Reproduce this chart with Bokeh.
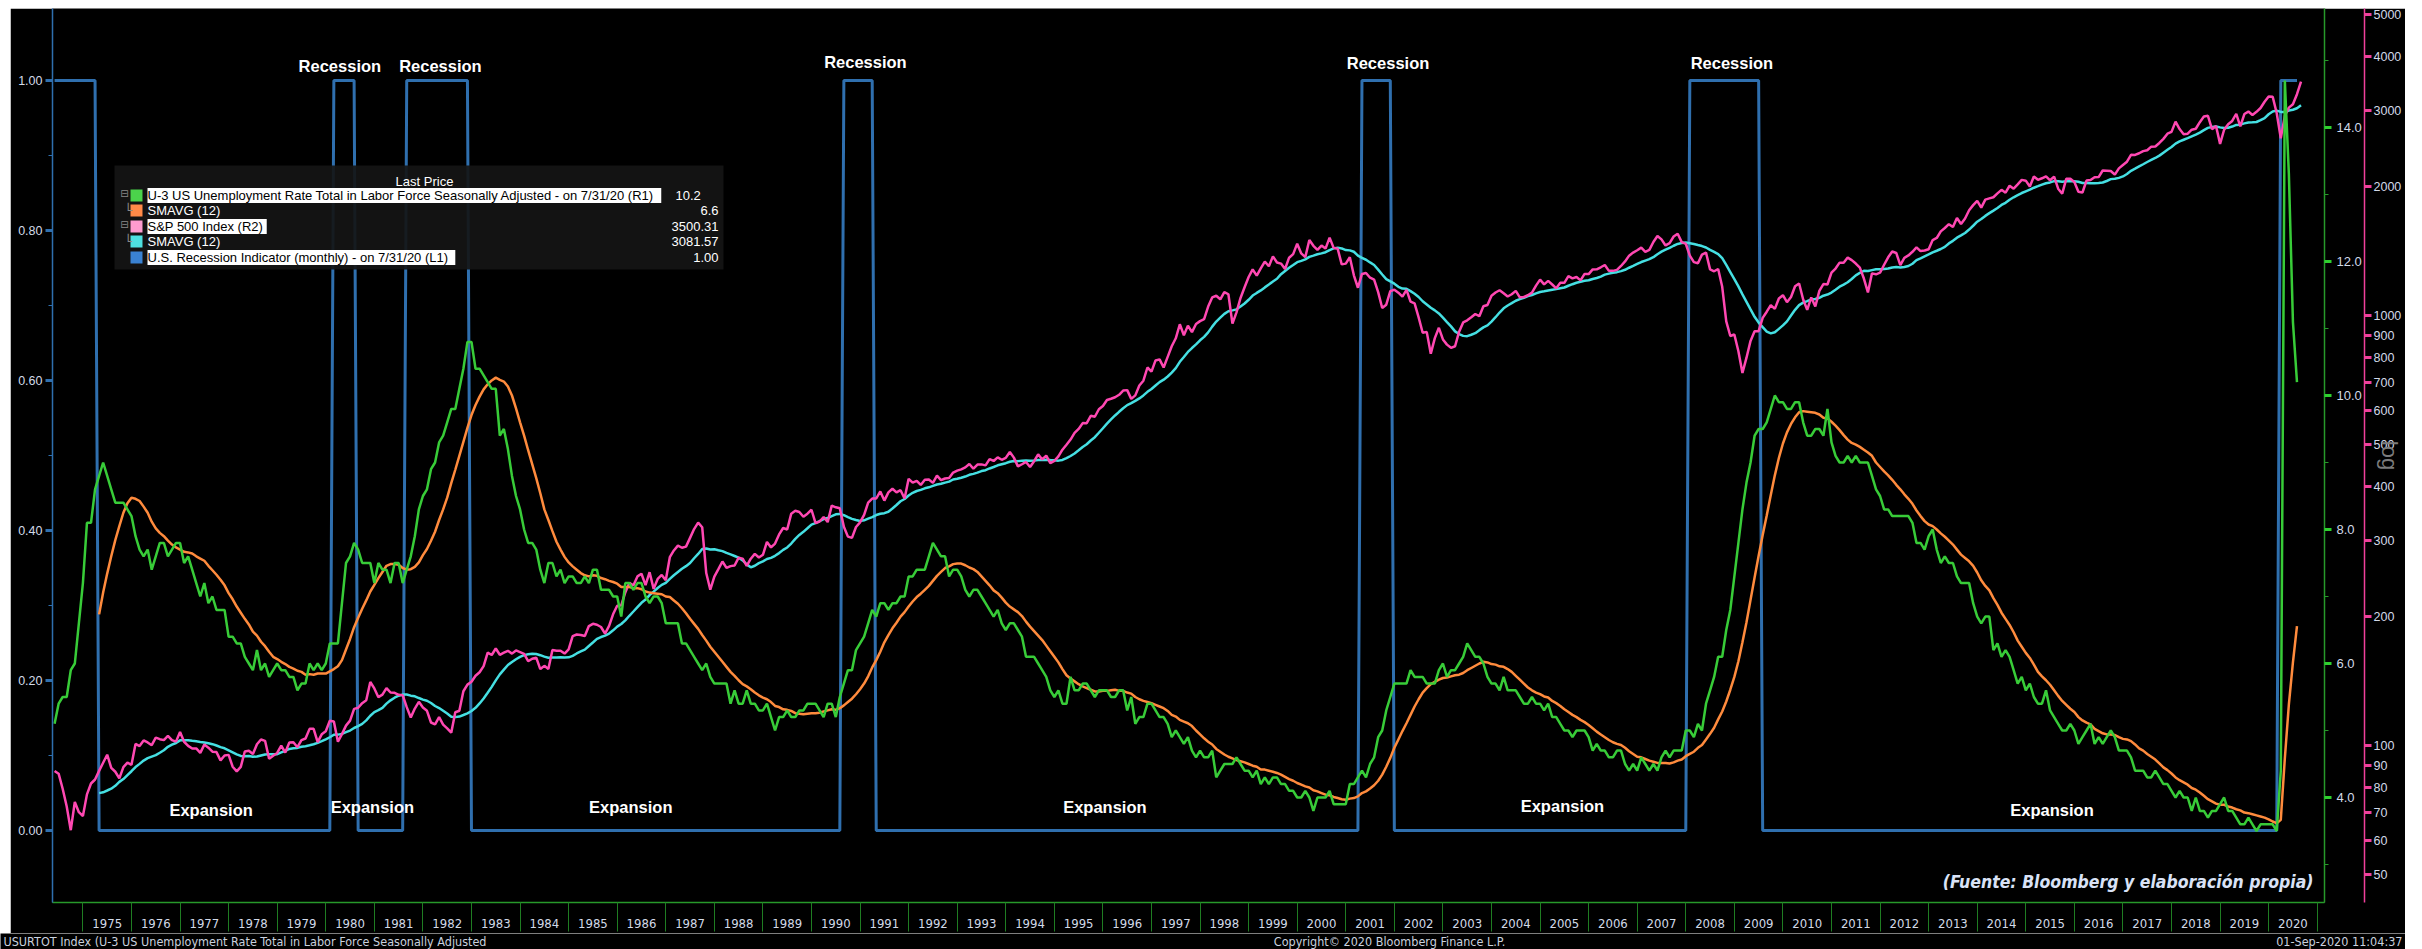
import numpy as np
from bokeh.plotting import figure
from bokeh.models import (Range1d, LinearAxis, LogAxis, FixedTicker, PrintfTickFormatter,
                          Label, BoxAnnotation, LogScale, ColumnDataSource, Spacer)
from bokeh.layouts import column, row
from bokeh.embed import file_html
from bokeh.resources import INLINE
from bokeh.core.properties import value

# ---------------- data ----------------
start_year, start_month = 1974, 5   # first monthly observation (month-end)

# U-3 US unemployment rate, monthly, May-1974 .. Jul-2020 (R1)
unemployment = [
    5.1, 5.4, 5.5, 5.5, 5.9, 6.0, 6.6, 7.2,                              # 1974
    8.1, 8.1, 8.6, 8.8, 9.0, 8.8, 8.6, 8.4, 8.4, 8.4, 8.3, 8.2,          # 1975
    7.9, 7.7, 7.6, 7.7, 7.4, 7.6, 7.8, 7.8, 7.6, 7.7, 7.8, 7.8,          # 1976
    7.5, 7.6, 7.4, 7.2, 7.0, 7.2, 6.9, 7.0, 6.8, 6.8, 6.8, 6.4,          # 1977
    6.4, 6.3, 6.3, 6.1, 6.0, 5.9, 6.2, 5.9, 6.0, 5.8, 5.9, 6.0,          # 1978
    5.9, 5.9, 5.8, 5.8, 5.6, 5.7, 5.7, 6.0, 5.9, 6.0, 5.9, 6.0,          # 1979
    6.3, 6.3, 6.3, 6.9, 7.5, 7.6, 7.8, 7.7, 7.5, 7.5, 7.5, 7.2,          # 1980
    7.5, 7.4, 7.4, 7.2, 7.5, 7.5, 7.2, 7.4, 7.6, 7.9, 8.3, 8.5,          # 1981
    8.6, 8.9, 9.0, 9.3, 9.4, 9.6, 9.8, 9.8, 10.1, 10.4, 10.8, 10.8,      # 1982
    10.4, 10.4, 10.3, 10.2, 10.1, 10.1, 9.4, 9.5, 9.2, 8.8, 8.5, 8.3,    # 1983
    8.0, 7.8, 7.8, 7.7, 7.4, 7.2, 7.5, 7.5, 7.3, 7.4, 7.2, 7.3,          # 1984
    7.3, 7.2, 7.2, 7.3, 7.2, 7.4, 7.4, 7.1, 7.1, 7.1, 7.0, 7.0,          # 1985
    6.7, 7.2, 7.2, 7.1, 7.2, 7.2, 7.0, 6.9, 7.0, 7.0, 6.9, 6.6,          # 1986
    6.6, 6.6, 6.6, 6.3, 6.3, 6.2, 6.1, 6.0, 5.9, 6.0, 5.8, 5.7,          # 1987
    5.7, 5.7, 5.7, 5.4, 5.6, 5.4, 5.4, 5.6, 5.4, 5.4, 5.3, 5.3,          # 1988
    5.4, 5.2, 5.0, 5.2, 5.2, 5.3, 5.2, 5.2, 5.3, 5.3, 5.4, 5.4,          # 1989
    5.4, 5.3, 5.2, 5.4, 5.4, 5.2, 5.5, 5.7, 5.9, 5.9, 6.2, 6.3,          # 1990
    6.4, 6.6, 6.8, 6.7, 6.9, 6.9, 6.8, 6.9, 6.9, 7.0, 7.0, 7.3,          # 1991
    7.3, 7.4, 7.4, 7.4, 7.6, 7.8, 7.7, 7.6, 7.6, 7.3, 7.4, 7.4,          # 1992
    7.3, 7.1, 7.0, 7.1, 7.1, 7.0, 6.9, 6.8, 6.7, 6.8, 6.6, 6.5,          # 1993
    6.6, 6.6, 6.5, 6.4, 6.1, 6.1, 6.1, 6.0, 5.9, 5.8, 5.6, 5.5,          # 1994
    5.6, 5.4, 5.4, 5.8, 5.6, 5.6, 5.7, 5.7, 5.6, 5.5, 5.6, 5.6,          # 1995
    5.6, 5.5, 5.5, 5.6, 5.6, 5.3, 5.5, 5.1, 5.2, 5.2, 5.4, 5.4,          # 1996
    5.3, 5.2, 5.2, 5.1, 4.9, 5.0, 4.9, 4.8, 4.9, 4.7, 4.6, 4.7,          # 1997
    4.6, 4.6, 4.7, 4.3, 4.4, 4.5, 4.5, 4.5, 4.6, 4.5, 4.4, 4.4,          # 1998
    4.3, 4.4, 4.2, 4.3, 4.2, 4.3, 4.3, 4.2, 4.2, 4.1, 4.1, 4.0,          # 1999
    4.0, 4.1, 4.0, 3.8, 4.0, 4.0, 4.0, 4.1, 3.9, 3.9, 3.9, 3.9,          # 2000
    4.2, 4.2, 4.3, 4.4, 4.3, 4.5, 4.6, 4.9, 5.0, 5.3, 5.5, 5.7,          # 2001
    5.7, 5.7, 5.7, 5.9, 5.8, 5.8, 5.8, 5.7, 5.7, 5.7, 5.9, 6.0,          # 2002
    5.8, 5.9, 5.9, 6.0, 6.1, 6.3, 6.2, 6.1, 6.1, 6.0, 5.8, 5.7,          # 2003
    5.7, 5.6, 5.8, 5.6, 5.6, 5.6, 5.5, 5.4, 5.4, 5.5, 5.4, 5.4,          # 2004
    5.3, 5.4, 5.2, 5.2, 5.1, 5.0, 5.0, 4.9, 5.0, 5.0, 5.0, 4.9,          # 2005
    4.7, 4.8, 4.7, 4.7, 4.6, 4.6, 4.7, 4.7, 4.5, 4.4, 4.5, 4.4,          # 2006
    4.6, 4.5, 4.4, 4.5, 4.4, 4.6, 4.7, 4.6, 4.7, 4.7, 4.7, 5.0,          # 2007
    5.0, 4.9, 5.1, 5.0, 5.4, 5.6, 5.8, 6.1, 6.1, 6.5, 6.8, 7.3,          # 2008
    7.8, 8.3, 8.7, 9.0, 9.4, 9.5, 9.5, 9.6, 9.8, 10.0, 9.9, 9.9,         # 2009
    9.8, 9.8, 9.9, 9.9, 9.6, 9.4, 9.4, 9.5, 9.5, 9.4, 9.8, 9.3,          # 2010
    9.1, 9.0, 9.0, 9.1, 9.0, 9.1, 9.0, 9.0, 9.0, 8.8, 8.6, 8.5,          # 2011
    8.3, 8.3, 8.2, 8.2, 8.2, 8.2, 8.2, 8.1, 7.8, 7.8, 7.7, 7.9,          # 2012
    8.0, 7.7, 7.5, 7.6, 7.5, 7.5, 7.3, 7.2, 7.2, 7.2, 6.9, 6.7,          # 2013
    6.6, 6.7, 6.7, 6.2, 6.3, 6.1, 6.2, 6.1, 5.9, 5.7, 5.8, 5.6,          # 2014
    5.7, 5.5, 5.4, 5.4, 5.6, 5.3, 5.2, 5.1, 5.0, 5.0, 5.1, 5.0,          # 2015
    4.8, 4.9, 5.0, 5.1, 4.8, 4.9, 4.8, 4.9, 5.0, 4.9, 4.7, 4.7,          # 2016
    4.7, 4.6, 4.4, 4.4, 4.4, 4.3, 4.3, 4.4, 4.3, 4.2, 4.2, 4.1,          # 2017
    4.0, 4.1, 4.0, 4.0, 3.8, 4.0, 3.8, 3.8, 3.7, 3.8, 3.8, 3.9,          # 2018
    4.0, 3.8, 3.8, 3.7, 3.6, 3.6, 3.7, 3.6, 3.5, 3.6, 3.6, 3.6,          # 2019
    3.6, 3.5, 4.4, 14.7, 13.3, 11.1, 10.2,                               # 2020
]

# S&P 500 index, month-end close, May-1974 .. Aug-2020 (R2, log)
sp500 = [
    87.28, 86.00, 79.31, 72.15, 63.54, 73.90, 69.97, 68.56,
    76.98, 81.59, 83.36, 87.30, 91.15, 95.19, 88.75, 86.88, 83.87, 89.04, 91.24, 90.19,
    100.86, 99.71, 102.77, 101.64, 100.18, 104.28, 103.44, 102.91, 105.24, 102.90, 102.10, 107.46,
    102.03, 99.82, 98.42, 98.44, 96.12, 100.48, 98.85, 96.77, 96.53, 92.34, 94.83, 95.10,
    89.25, 87.04, 89.21, 96.83, 97.24, 95.53, 100.68, 103.29, 102.54, 93.15, 94.70, 96.11,
    99.93, 96.28, 101.59, 101.76, 99.08, 102.91, 103.81, 109.32, 109.32, 101.82, 106.16, 107.94,
    114.16, 113.66, 102.09, 106.29, 111.24, 114.24, 121.67, 122.38, 125.46, 127.47, 140.52, 135.76,
    129.55, 131.27, 136.00, 132.81, 132.59, 131.21, 130.92, 122.79, 116.18, 121.89, 126.35, 122.55,
    120.40, 113.11, 111.96, 116.44, 111.88, 109.61, 107.09, 119.51, 120.42, 133.71, 138.54, 140.64,
    145.30, 148.06, 152.96, 164.42, 162.39, 168.11, 162.56, 164.40, 166.07, 163.55, 166.40, 164.93,
    163.41, 157.06, 159.18, 160.05, 150.55, 153.18, 150.66, 166.68, 166.10, 166.09, 163.58, 167.24,
    179.63, 181.18, 180.66, 179.83, 189.55, 191.85, 190.92, 188.63, 182.08, 189.82, 202.17, 211.28,
    211.78, 226.92, 238.90, 235.52, 247.35, 250.84, 236.12, 252.93, 231.32, 243.98, 249.22, 242.17,
    274.08, 284.20, 291.70, 288.36, 290.10, 304.00, 318.66, 329.80, 321.83, 251.79, 230.30, 247.08,
    257.07, 267.82, 258.89, 261.33, 262.16, 273.50, 272.02, 261.52, 271.91, 278.97, 273.70, 277.72,
    297.47, 288.86, 294.87, 309.64, 320.52, 317.98, 346.08, 351.45, 349.15, 340.36, 345.99, 353.40,
    329.08, 331.89, 339.94, 330.80, 361.23, 358.02, 356.15, 322.56, 306.05, 304.00, 322.22, 330.22,
    343.93, 367.07, 375.22, 375.35, 389.83, 371.16, 387.81, 395.43, 387.86, 392.46, 375.22, 417.09,
    408.79, 412.70, 403.69, 414.95, 415.35, 408.14, 424.21, 414.03, 417.80, 418.68, 431.35, 435.71,
    438.78, 443.38, 451.67, 440.19, 450.19, 450.53, 448.13, 463.56, 458.93, 467.83, 461.79, 466.45,
    481.61, 467.14, 445.77, 450.91, 456.50, 444.27, 458.26, 475.49, 462.69, 472.35, 453.69, 459.27,
    470.42, 487.39, 500.71, 514.71, 533.40, 544.75, 562.06, 561.88, 584.41, 581.50, 605.37, 615.93,
    636.02, 640.43, 645.50, 654.17, 669.12, 670.63, 639.95, 651.99, 687.33, 705.27, 757.02, 740.74,
    786.16, 790.82, 757.12, 801.34, 848.28, 885.14, 954.29, 899.47, 947.28, 914.62, 955.40, 970.43,
    980.28, 1049.34, 1101.75, 1111.75, 1090.82, 1133.84, 1120.67, 957.28, 1017.01, 1098.67, 1163.63, 1229.23,
    1279.64, 1238.33, 1286.37, 1335.18, 1301.84, 1372.71, 1328.72, 1320.41, 1282.71, 1362.93, 1388.91, 1469.25,
    1394.46, 1366.42, 1498.58, 1452.43, 1420.60, 1454.60, 1430.83, 1517.68, 1436.51, 1429.40, 1314.95, 1320.28,
    1366.01, 1239.94, 1160.33, 1249.46, 1255.82, 1224.42, 1211.23, 1133.58, 1040.94, 1059.78, 1139.45, 1148.08,
    1130.20, 1106.73, 1147.39, 1076.92, 1067.14, 989.82, 911.62, 916.07, 815.28, 885.76, 936.31, 879.82,
    855.70, 841.15, 848.18, 916.92, 963.59, 974.50, 990.31, 1008.01, 995.97, 1050.71, 1058.20, 1111.92,
    1131.13, 1144.94, 1126.21, 1107.30, 1120.68, 1140.84, 1101.72, 1104.24, 1114.58, 1130.20, 1173.82, 1211.92,
    1181.27, 1203.60, 1180.59, 1156.85, 1191.50, 1191.33, 1234.18, 1220.33, 1228.81, 1207.01, 1249.48, 1248.29,
    1280.08, 1280.66, 1294.83, 1310.61, 1270.09, 1270.20, 1276.66, 1303.82, 1335.85, 1377.94, 1400.63, 1418.30,
    1438.24, 1406.82, 1420.86, 1482.37, 1530.62, 1503.35, 1455.27, 1473.99, 1526.75, 1549.38, 1481.14, 1468.36,
    1378.55, 1330.63, 1322.70, 1385.59, 1400.38, 1280.00, 1267.38, 1282.83, 1166.36, 968.75, 896.24, 903.25,
    825.88, 735.09, 797.87, 872.81, 919.14, 919.32, 987.48, 1020.62, 1057.08, 1036.19, 1095.63, 1115.10,
    1073.87, 1104.49, 1169.43, 1186.69, 1089.41, 1030.71, 1101.60, 1049.33, 1141.20, 1183.26, 1180.55, 1257.64,
    1286.12, 1327.22, 1325.83, 1363.61, 1345.20, 1320.64, 1292.28, 1218.89, 1131.42, 1253.30, 1246.96, 1257.60,
    1312.41, 1365.68, 1408.47, 1397.91, 1310.33, 1362.16, 1379.32, 1406.58, 1440.67, 1412.16, 1416.18, 1426.19,
    1498.11, 1514.68, 1569.19, 1597.57, 1630.74, 1606.28, 1685.73, 1632.97, 1681.55, 1756.54, 1805.81, 1848.36,
    1782.59, 1859.45, 1872.34, 1883.95, 1923.57, 1960.23, 1930.67, 2003.37, 1972.29, 2018.05, 2067.56, 2058.90,
    1994.99, 2104.50, 2067.89, 2085.51, 2107.39, 2063.11, 2103.84, 1972.18, 1920.03, 2079.36, 2080.41, 2043.94,
    1940.24, 1932.23, 2059.74, 2065.30, 2096.95, 2098.86, 2173.60, 2170.95, 2168.27, 2126.15, 2198.81, 2238.83,
    2278.87, 2363.64, 2362.72, 2384.20, 2411.80, 2423.41, 2470.30, 2471.65, 2519.36, 2575.26, 2647.58, 2673.61,
    2823.81, 2713.83, 2640.87, 2648.05, 2705.27, 2718.37, 2816.29, 2901.52, 2913.98, 2711.74, 2760.17, 2506.85,
    2704.10, 2784.49, 2834.40, 2945.83, 2752.06, 2941.76, 2980.38, 2926.46, 2976.74, 3037.56, 3140.98, 3230.78,
    3225.52, 2954.22, 2584.59, 2912.43, 3044.31, 3100.29, 3271.12, 3500.31,
]

# NBER recession months (indicator = 1), inclusive (year, month) pairs (L1)
recession_periods = [
    ((1973, 12), (1975, 3)),
    ((1980, 2), (1980, 7)),
    ((1981, 8), (1982, 11)),
    ((1990, 8), (1991, 3)),
    ((2001, 4), (2001, 11)),
    ((2008, 1), (2009, 6)),
    ((2020, 3), (2020, 7)),
]

year_labels = list(range(1975, 2021))
left_ticks = [0.0, 0.2, 0.4, 0.6, 0.8, 1.0]
left_minor = [0.1, 0.3, 0.5, 0.7, 0.9]
r1_ticks = [4.0, 6.0, 8.0, 10.0, 12.0, 14.0]
r1_minor = [3.0, 5.0, 7.0, 9.0, 11.0, 13.0, 15.0]
r2_ticks = [50, 60, 70, 80, 90, 100, 200, 300, 400, 500, 600, 700, 800, 900,
            1000, 2000, 3000, 4000, 5000]

legend_names = ["U-3 US Unemployment Rate Total in Labor Force Seasonally Adjusted -  on 7/31/20  (R1)",
                "SMAVG (12)", "S&P 500 Index  (R2)", "SMAVG (12)",
                "U.S. Recession Indicator (monthly) -  on 7/31/20  (L1)"]
legend_values = ["10.2", "6.6", "3500.31", "3081.57", "1.00"]

recession_text_years = [1980.29, 1982.36, 1991.11, 2001.87, 2008.95]
expansion_text_years = [1977.64, 1980.96, 1986.28, 1996.04, 2005.46, 2015.54]

# ---------------- derived series ----------------
def month_time(i):
    m = start_month - 1 + i
    return start_year + (m // 12) + ((m % 12) + 1) / 12.0

def ym_index(y, m):
    return (y - start_year) * 12 + (m - start_month)

t_u = np.array([month_time(i) for i in range(len(unemployment))])
t_s = np.array([month_time(i) for i in range(len(sp500))])
rec = np.zeros(len(unemployment))
for (y0, m0), (y1, m1) in recession_periods:
    a = max(0, ym_index(y0, m0))
    b = min(len(unemployment) - 1, ym_index(y1, m1))
    rec[a:b + 1] = 1.0

def smavg(arr, n=12):
    arr = np.asarray(arr, dtype=float)
    return np.convolve(arr, np.ones(n) / n, mode="valid")

u_ma = smavg(unemployment)
s_ma = smavg(sp500)

# ---------------- styling ----------------
BG = "black"
C_GREEN = "#38cc38"
C_ORANGE = "#ff8b3d"
C_PINK = "#ff48b2"
C_CYAN = "#45dfe2"
C_BLUE = "#2f6fae"
AX_GREEN = "#27992a"
AX_PINK = "#f0409c"
TXT = "#d2dae8"
FONT = "Liberation Sans"
COND = "DejaVu Sans Condensed"

p = figure(width=2395, height=925, output_backend="svg", toolbar_location=None,
           x_range=Range1d(1974.374, 2021.15), y_range=Range1d(-0.096, 1.096),
           background_fill_color=BG, border_fill_color=BG,
           min_border_left=42, min_border_right=75, min_border_top=0, min_border_bottom=31)
p.outline_line_color = None
p.grid.visible = False
p.extra_y_ranges = {"r1": Range1d(2.433, 15.776), "r2": Range1d(43.14, 5176.0)}
p.extra_y_scales = {"r2": LogScale()}

# left axis (recession indicator)
yl = p.yaxis[0]
yl.ticker = FixedTicker(ticks=left_ticks, minor_ticks=left_minor)
yl.formatter = PrintfTickFormatter(format="%.2f")
yl.axis_line_color = C_BLUE
yl.axis_line_width = 1.5
yl.major_tick_line_color = C_BLUE
yl.major_tick_line_width = 3
yl.major_tick_out = 7
yl.major_tick_in = 0
yl.minor_tick_line_color = C_BLUE
yl.minor_tick_out = 4
yl.minor_tick_in = 0
yl.major_label_text_color = TXT
yl.major_label_text_font = FONT
yl.major_label_text_font_size = "12.5px"
yl.major_label_standoff = 3

# bottom axis (years)
xa = p.xaxis[0]
xa.ticker = FixedTicker(ticks=[y + 0.5 for y in year_labels],
                        minor_ticks=[y for y in year_labels] + [year_labels[-1] + 1])
xa.major_label_overrides = {y + 0.5: str(y) for y in year_labels}
xa.axis_line_color = AX_GREEN
xa.axis_line_width = 1.5
xa.major_tick_line_color = None
xa.major_tick_out = 0
xa.major_tick_in = 0
xa.minor_tick_line_color = "#1f7d22"
xa.minor_tick_out = 29
xa.minor_tick_in = 0
xa.major_label_text_color = TXT
xa.major_label_text_font = COND
xa.major_label_text_font_size = "13px"
xa.major_label_standoff = -13

# right axis 1 (unemployment)
ax1 = LinearAxis(y_range_name="r1", ticker=FixedTicker(ticks=r1_ticks, minor_ticks=r1_minor),
                 formatter=PrintfTickFormatter(format="%.1f"))
ax1.axis_line_color = AX_GREEN
ax1.axis_line_width = 1.5
ax1.major_tick_line_color = "#2fd12f"
ax1.major_tick_line_width = 3
ax1.major_tick_out = 7
ax1.major_tick_in = 0
ax1.minor_tick_line_color = AX_GREEN
ax1.minor_tick_out = 4
ax1.minor_tick_in = 0
ax1.major_label_text_color = TXT
ax1.major_label_text_font = FONT
ax1.major_label_text_font_size = "13px"
ax1.major_label_standoff = 5
p.add_layout(ax1, "right")

# right axis 2 (S&P 500, log)
ax2 = LogAxis(y_range_name="r2", ticker=FixedTicker(ticks=r2_ticks, minor_ticks=[]),
              formatter=PrintfTickFormatter(format="%d"))
ax2.axis_line_color = AX_PINK
ax2.axis_line_width = 1.5
ax2.major_tick_line_color = AX_PINK
ax2.major_tick_line_width = 3
ax2.major_tick_out = 7
ax2.major_tick_in = 0
ax2.minor_tick_line_color = None
ax2.major_label_text_color = TXT
ax2.major_label_text_font = FONT
ax2.major_label_text_font_size = "12.5px"
ax2.major_label_standoff = 2
ax2.axis_label = "log"
ax2.axis_label_text_color = "#7c7c7c"
ax2.axis_label_text_font = FONT
ax2.axis_label_text_font_style = "normal"
ax2.axis_label_text_font_size = "22px"
ax2.axis_label_standoff = -27
p.add_layout(ax2, "right")

# ---------------- series ----------------
p.line(t_u, rec, color=C_BLUE, line_width=3)
p.line(t_s[11:], s_ma, color=C_CYAN, line_width=2.5, y_range_name="r2")
p.line(t_s, sp500, color=C_PINK, line_width=2.5, y_range_name="r2")
p.line(t_u[11:], u_ma, color=C_ORANGE, line_width=2.5, y_range_name="r1")
p.line(t_u, unemployment, color=C_GREEN, line_width=2.5, y_range_name="r1")

# ---------------- annotations ----------------
rec_src = ColumnDataSource(dict(x=recession_text_years, y=[1.019, 1.019, 1.025, 1.024, 1.024],
                                t=["Recession"] * len(recession_text_years)))
p.text(x="x", y="y", text="t", source=rec_src, text_color="white", text_font=value(FONT),
       text_font_style="bold", text_font_size="16.5px", text_align="center", text_baseline="middle")
exp_src = ColumnDataSource(dict(x=expansion_text_years, y=[0.027, 0.031, 0.031, 0.031, 0.033, 0.027],
                                t=["Expansion"] * len(expansion_text_years)))
p.text(x="x", y="y", text="t", source=exp_src, text_color="white", text_font=value(FONT),
       text_font_style="bold", text_font_size="16.5px", text_align="center", text_baseline="middle")

p.add_layout(Label(x=2261, y=21, x_units="screen", y_units="screen",
                   text="(Fuente: Bloomberg y elaboración propia)", text_color="#d9e2f6",
                   text_font=COND, text_font_style="bold italic", text_font_size="17.5px",
                   text_align="right", text_baseline="middle"))

# legend panel
p.add_layout(BoxAnnotation(left=62, right=671, bottom=633, top=737,
                           left_units="screen", right_units="screen",
                           bottom_units="screen", top_units="screen",
                           fill_color="#151515", fill_alpha=0.92, line_color=None))
p.add_layout(Label(x=372, y=721, x_units="screen", y_units="screen", text="Last Price",
                   text_color="white", text_font=FONT, text_font_size="13px",
                   text_align="center", text_baseline="middle"))
row_y = [707, 692, 676, 661, 645]
sw_colors = ["#4bd34b", "#ff8a48", "#ff9ccf", "#4ee0e0", "#3a82d2"]
for i, (name, val) in enumerate(zip(legend_names, legend_values)):
    yc = row_y[i]
    p.add_layout(BoxAnnotation(left=78, right=90, bottom=yc - 6, top=yc + 6,
                               left_units="screen", right_units="screen",
                               bottom_units="screen", top_units="screen",
                               fill_color=sw_colors[i], fill_alpha=1.0, line_color=None))
    hl = i in (0, 2, 4)
    p.add_layout(Label(x=95, y=yc, x_units="screen", y_units="screen", text=name,
                       text_color="black" if hl else "white",
                       background_fill_color="white" if hl else None,
                       text_font=FONT, text_font_size="13px",
                       text_align="left", text_baseline="middle"))
    if i == 0:
        p.add_layout(Label(x=623, y=yc, x_units="screen", y_units="screen", text=val,
                           text_color="white", text_font=FONT, text_font_size="13px",
                           text_align="left", text_baseline="middle"))
    else:
        p.add_layout(Label(x=666, y=yc, x_units="screen", y_units="screen", text=val,
                           text_color="white", text_font=FONT, text_font_size="13px",
                           text_align="right", text_baseline="middle"))
for i in (0, 2):
    p.add_layout(Label(x=72, y=row_y[i] + 2, x_units="screen", y_units="screen", text="⊟",
                       text_color="#8a8a8a", text_font="DejaVu Sans", text_font_size="10px",
                       text_align="center", text_baseline="middle"))
    p.add_layout(Label(x=72, y=row_y[i + 1], x_units="screen", y_units="screen", text="└",
                       text_color="#8a8a8a", text_font="DejaVu Sans", text_font_size="13px",
                       text_align="left", text_baseline="middle"))

# ---------------- footer strip ----------------
foot = figure(width=2405, height=16, output_backend="svg", toolbar_location=None,
              x_range=Range1d(0, 2405), y_range=Range1d(0, 16),
              background_fill_color=BG, border_fill_color=BG,
              min_border_left=0, min_border_right=0, min_border_top=0, min_border_bottom=0)
foot.outline_line_color = None
foot.axis.visible = False
foot.grid.visible = False
foot.add_layout(Label(x=3, y=8, text="USURTOT Index (U-3 US Unemployment Rate Total in Labor Force Seasonally Adjusted",
                      text_color="#c9d1df", text_font=COND, text_font_size="12.5px",
                      text_align="left", text_baseline="middle"))
foot.add_layout(Label(x=1389, y=8, text="Copyright© 2020 Bloomberg Finance L.P.",
                      text_color="#c9d1df", text_font=COND, text_font_size="12.5px",
                      text_align="center", text_baseline="middle"))
foot.add_layout(Label(x=2402, y=8, text="01-Sep-2020 11:04:37",
                      text_color="#c9d1df", text_font=COND, text_font_size="12.5px",
                      text_align="right", text_baseline="middle"))

layout = column(Spacer(width=2405, height=8), row(Spacer(width=10, height=925), p), foot)
open("out.html", "w").write(file_html(layout, INLINE))
